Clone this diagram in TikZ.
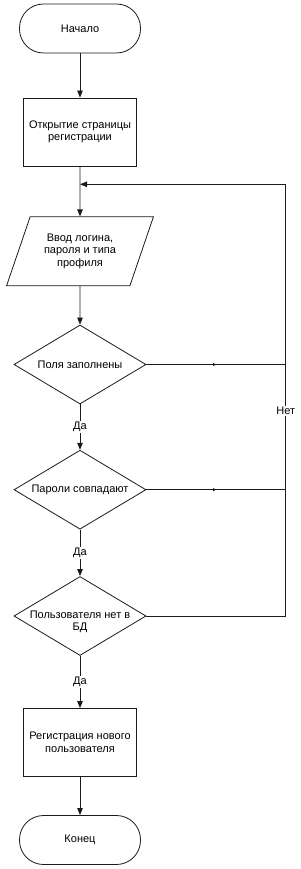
\documentclass[tikz,border=0pt]{standalone}
\usepackage{fontspec}
\setmainfont{Liberation Sans}
\usetikzlibrary{arrows.meta,positioning,calc,shapes.geometric,decorations.markings}
\definecolor{Ink}{HTML}{1A1A1A}

\begin{document}
\begin{tikzpicture}[x=1pt,y=-1pt,
  txt/.style={font=\fontsize{11}{12.5}\selectfont,align=center,inner sep=0pt},
  base/.style={txt,draw=Ink,line width=0.8pt},
  term/.style={base,rounded corners=24pt,minimum width=121pt,minimum height=49pt},
  proc/.style={base,minimum width=113pt,minimum height=68pt},
  io/.style={base,trapezium,trapezium stretches=true,trapezium left angle=64,trapezium right angle=116,minimum width=147pt,minimum height=69pt},
  cond/.style={base,diamond,minimum width=132pt,minimum height=79pt},
  line/.style={draw=Ink,line width=0.8pt},
  flow/.style={line,-{Triangle[length=7pt,width=5.5pt]}},
  midtip/.style={postaction={decorate},decoration={markings,mark=at position 0.5 with {\arrow{Triangle[length=3pt,width=3pt]}}}},
  lbl/.style={txt,fill=white,inner sep=1pt}]
\useasboundingbox (0,0) rectangle (300,869);
% shapes, top to bottom
\node[term] (start) at (80,28.5) {Начало};
\node[proc] (open) at (80,132) {Открытие страницы\\регистрации};
\node[io] (input) at (80,251.3) {Ввод логина,\\пароля и типа\\профиля};
\node[cond,label={[txt]center:Поля заполнены}] (d1) at (80,364.5) {};
\node[cond,label={[txt]center:Пароли совпадают}] (d2) at (80,489.7) {};
\node[cond,label={[txt,yshift=-6pt]center:Пользователя нет в\\БД}] (d3) at (80,616) {};
\node[proc] (reg) at (80,742.5) {Регистрация нового\\пользователя};
\node[term] (end) at (80,840) {Конец};
\coordinate (back) at (285.7,184.3);
% main flow
\draw[flow] (start) -- (open);
\draw[flow] (open) -- (input);
\draw[flow] (input) -- (d1);
\draw[flow] (d1) -- node[lbl] (yes1) {Да} (d2);
\draw[flow] (d2) -- node[lbl] (yes2) {Да} (d3);
\draw[flow] (d3) -- node[lbl] (yes3) {Да} (reg);
\draw[flow] (reg) -- (end);
% return loop
\draw[line,midtip] (d1.east) -- (d1.east -| back);
\draw[line,midtip] (d2.east) -- (d2.east -| back);
\draw[flow] (d3.east) -| (back) -- (open.south |- back);
\node[lbl] (no) at (285.7,410.7) {Нет};
\end{tikzpicture}
\end{document}
